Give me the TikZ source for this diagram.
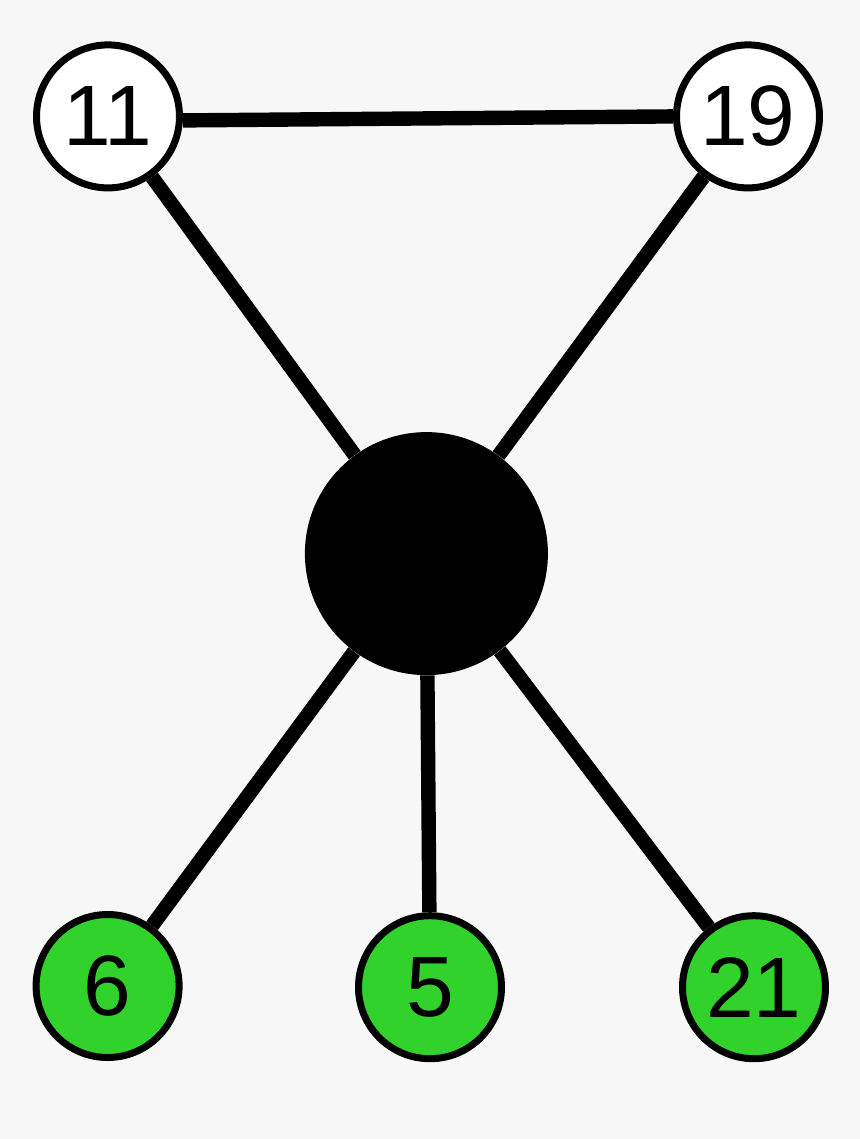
\documentclass[tikz,border=0pt]{standalone}
\usepackage{fontspec}
\setmainfont{Liberation Sans}
\definecolor{bggray}{RGB}{247,247,247}
\definecolor{leafgreen}{RGB}{50,210,45}
\usetikzlibrary{positioning}

\begin{document}
\begin{tikzpicture}[
    vertex/.style={draw,circle,line width=0.175cm,fill=white,inner sep=0pt,
                   minimum size=3.575cm,font=\fontsize{61}{61}\selectfont},
    leaf/.style={vertex,fill=leafgreen},
    hub/.style={circle,fill=black,inner sep=0pt,minimum size=6.075cm},
    link/.style={line width=0.36cm}]
  \fill[bggray] (0,0) rectangle (21.5,-28.475);
  \useasboundingbox (0,0) rectangle (21.5,-28.475);

  \node[vertex] (n11) at (2.7,-2.91) {11};
  \node[vertex] (n19) at (18.7,-2.91) {19};
  \node[hub]    (c)   at (10.66,-13.84) {};
  \node[leaf]   (n6)  at (2.69,-24.65) {6};
  \node[leaf]   (n5)  at (10.75,-24.68) {5};
  \node[leaf]   (n21) at (18.85,-24.68) {21};

  \draw[link] ([yshift=-0.1cm]n11.east) -- (n19.west);
  \draw[link] (n11) -- (c);
  \draw[link] (n19) -- (c);
  \draw[link] (c) -- (n6);
  \draw[link] (c) -- (n5);
  \draw[link] (c) -- (n21);
\end{tikzpicture}
\end{document}
